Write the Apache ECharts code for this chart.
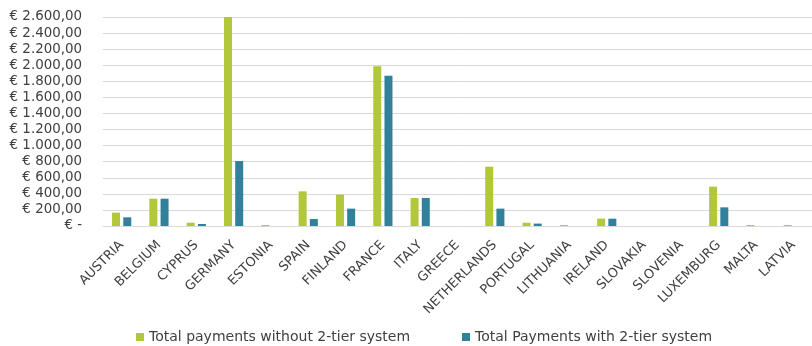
<!DOCTYPE html>
<html><head><meta charset="utf-8">
<script src="https://cdn.jsdelivr.net/npm/echarts@6/dist/echarts.min.js"></script>
<style>html,body{margin:0;padding:0;background:#fff}#c{width:812px;height:346px}</style>
</head><body><div id="c"></div>
<script>
const categories = ["AUSTRIA","BELGIUM","CYPRUS","GERMANY","ESTONIA","SPAIN","FINLAND","FRANCE","ITALY","GREECE","NETHERLANDS","PORTUGAL","LITHUANIA","IRELAND","SLOVAKIA","SLOVENIA","LUXEMBURG","MALTA","LATVIA"];
const without2tier = [166,340,41,2600,12,431,390,1986,348,0,738,41,12,91,0,0,489,12,12];
const with2tier = [108,340,25,808,0,87,216,1870,348,0,216,30,0,91,0,0,232,0,0];
const seriesNames = ["Total payments without 2-tier system","Total Payments with 2-tier system"];
const colors = ['#b3c73a','#31819b'];

function fmt(v){
  if (v === 0) return "€ -";
  const s = Math.round(v).toString().replace(/\B(?=(\d{3})+(?!\d))/g, ".");
  return "€ " + s + ",00";
}
const FONT = "DejaVu Sans";
const legendBase = {
  top:325, itemWidth:8, itemHeight:8, icon:'rect',
  textStyle:{fontSize:14,color:'#404040',fontFamily:FONT}
};
const chart = echarts.init(document.getElementById('c'));
chart.setOption({
  animation:false,
  color:colors,
  textStyle:{fontFamily:FONT},
  grid:{left:103,right:0,top:17,bottom:120},
  legend:[
    Object.assign({left:131, data:[seriesNames[0]]}, legendBase),
    Object.assign({left:457, data:[seriesNames[1]]}, legendBase)
  ],
  xAxis:{
    type:'category', data:categories,
    axisLine:{lineStyle:{color:'#d9d9d9'}},
    axisTick:{show:false},
    axisLabel:{rotate:45,interval:0,fontSize:13,color:'#404040',margin:17,fontFamily:FONT}
  },
  yAxis:{
    type:'value', min:0, max:2600, interval:200,
    axisLine:{show:false}, axisTick:{show:false},
    splitLine:{lineStyle:{color:'#d9d9d9',width:1}},
    axisLabel:{formatter:fmt,fontSize:13.4,color:'#404040',margin:21,fontFamily:FONT}
  },
  series:[
    {name:seriesNames[0],type:'bar',data:without2tier,barWidth:8,barGap:'40%',itemStyle:{color:colors[0]}},
    {name:seriesNames[1],type:'bar',data:with2tier,barWidth:8,itemStyle:{color:colors[1]}}
  ]
});
</script></body></html>
